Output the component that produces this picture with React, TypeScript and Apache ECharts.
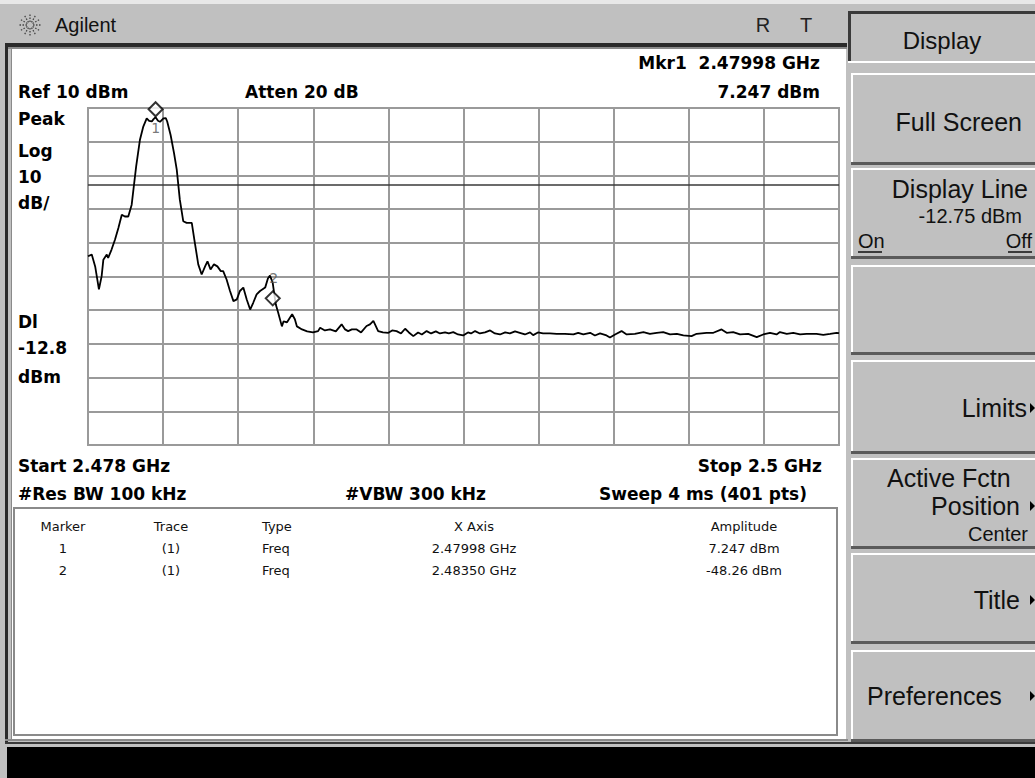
import React, { useEffect, useRef } from "react";
import * as echarts from "echarts";

// ---- instrument settings ----
const START_MHZ = 2478;
const STOP_MHZ = 2500;
const REF_LEVEL_DBM = 10;
const DB_PER_DIV = 10;
const DIVISIONS = 10;
const DISPLAY_LINE_DBM = -12.75;

// ---- trace ----
const traceFreqMHz = [
  2478.0, 2478.11, 2478.21, 2478.32, 2478.4, 2478.45, 2478.55, 2478.59, 2478.69, 2478.79,
  2478.89, 2478.99, 2479.08, 2479.18, 2479.28, 2479.33, 2479.41, 2479.52, 2479.62, 2479.72,
  2479.79, 2479.87, 2479.92, 2479.98, 2480.05, 2480.11, 2480.21, 2480.28, 2480.32, 2480.42,
  2480.52, 2480.6, 2480.69, 2480.79, 2480.89, 2481.04, 2481.13, 2481.23, 2481.33, 2481.43,
  2481.5, 2481.59, 2481.69, 2481.79, 2481.89, 2481.96, 2482.06, 2482.16, 2482.26, 2482.36,
  2482.45, 2482.55, 2482.65, 2482.75, 2482.84, 2482.94, 2483.04, 2483.19, 2483.27, 2483.33,
  2483.41, 2483.5, 2483.57, 2483.68, 2483.73, 2483.83, 2483.98, 2484.06, 2484.12, 2484.27,
  2484.42, 2484.59, 2484.74, 2484.8, 2484.94, 2485.09, 2485.26, 2485.43, 2485.53, 2485.62,
  2485.73, 2485.87, 2486.0, 2486.16, 2486.26, 2486.36, 2486.5, 2486.64, 2486.8, 2486.91,
  2487.04, 2487.17, 2487.29, 2487.4, 2487.53, 2487.67, 2487.78, 2487.92, 2488.05, 2488.19,
  2488.31, 2488.46, 2488.57, 2488.7, 2488.84, 2488.99, 2489.13, 2489.22, 2489.34, 2489.48,
  2489.63, 2489.78, 2489.92, 2490.07, 2490.22, 2490.36, 2490.51, 2490.65, 2490.8, 2490.95,
  2491.04, 2491.18, 2491.33, 2491.53, 2491.73, 2491.97, 2492.22, 2492.36, 2492.51, 2492.71,
  2492.85, 2493.0, 2493.19, 2493.29, 2493.44, 2493.63, 2493.78, 2494.02, 2494.27, 2494.46,
  2494.66, 2494.85, 2495.05, 2495.25, 2495.44, 2495.68, 2495.83, 2496.12, 2496.32, 2496.56,
  2496.71, 2496.9, 2497.1, 2497.34, 2497.59, 2497.78, 2497.98, 2498.17, 2498.27, 2498.47,
  2498.66, 2498.86, 2499.05, 2499.34, 2499.54, 2499.74, 2499.93, 2500.0,
];
const traceLevelDbm = [
  -34.0, -33.5, -37.0, -43.8, -39.9, -35.0, -33.5, -34.5, -32.0, -29.1,
  -25.6, -21.7, -22.2, -22.2, -18.7, -14.3, -7.4, 0.5, 4.5, 6.9,
  6.2, 6.0, 6.7, 7.247, 6.2, 5.9, 6.9, 7.0, 6.0, 2.0,
  -3.4, -8.3, -17.2, -23.6, -24.1, -24.1, -30.0, -36.4, -39.4, -37.0,
  -35.5, -37.9, -36.4, -37.0, -38.4, -38.4, -40.9, -44.3, -47.3, -46.8,
  -44.3, -43.3, -46.8, -49.8, -47.8, -45.3, -44.3, -43.3, -40.6, -39.7,
  -41.8, -48.26, -50.7, -54.8, -53.3, -53.6, -51.2, -52.7, -54.8, -55.7,
  -56.3, -56.6, -56.2, -55.2, -56.0, -55.7, -56.3, -54.2, -55.7, -56.2,
  -55.7, -55.7, -56.6, -54.7, -54.2, -53.2, -56.2, -56.6, -56.7, -56.0,
  -56.2, -56.9, -55.5, -56.6, -57.7, -56.6, -57.2, -56.2, -56.9, -56.3,
  -56.9, -56.6, -56.9, -56.5, -57.2, -57.5, -56.6, -56.9, -56.2, -56.9,
  -56.6, -56.0, -56.9, -57.2, -56.6, -56.9, -56.3, -56.7, -57.2, -56.6,
  -57.4, -56.6, -56.9, -56.9, -57.0, -57.0, -57.2, -56.7, -57.2, -56.7,
  -57.5, -56.9, -57.5, -58.1, -57.2, -56.2, -57.2, -57.0, -56.5, -57.0,
  -56.7, -56.5, -57.2, -57.0, -57.5, -57.7, -57.0, -56.7, -56.7, -55.7,
  -56.7, -56.5, -57.2, -57.0, -58.0, -57.2, -56.7, -57.2, -56.5, -57.0,
  -56.7, -57.2, -57.0, -57.0, -57.3, -57.0, -56.7, -56.8,
];

// ---- markers ----
const markerNames = ["1", "2"];
const markerFreqGHz = [2.47998, 2.4835];
const markerLevelDbm = [7.247, -48.26];
const markerFreqText = ["2.47998 GHz", "2.48350 GHz"];
const markerAmpText = ["7.247 dBm", "-48.26 dBm"];
const markerTrace = ["(1)", "(1)"];
const markerType = ["Freq", "Freq"];
const tableHeaders = ["Marker", "Trace", "Type", "X Axis", "Amplitude"];

// ---- softkeys ----
const softkeyTitle = "Display";

const GRID = { left: 88, top: 108, width: 751, height: 337 };

const BOLD = '"DejaVu Sans", sans-serif';
const KEYFONT = '"Liberation Sans", Arial, sans-serif';

function txt(text: string, x: number, y: number, o: any = {}) {
  return {
    type: "text",
    silent: true,
    z: o.z ?? 10,
    style: {
      text,
      x,
      y,
      fill: o.fill ?? "#000",
      fontSize: o.size ?? 17,
      fontWeight: o.weight ?? "normal",
      fontFamily: o.family ?? BOLD,
      align: o.align ?? "left",
      textAlign: o.align ?? "left",
      verticalAlign: "middle",
      textVerticalAlign: "middle",
    },
  };
}
function rect(x: number, y: number, w: number, h: number, fill: string, o: any = {}) {
  return {
    type: "rect",
    silent: true,
    z: o.z ?? 1,
    shape: { x, y, width: w, height: h },
    style: { fill, stroke: o.stroke ?? null, lineWidth: o.lw ?? 0 },
  };
}
function line(x1: number, y1: number, x2: number, y2: number, stroke: string, lw = 1, o: any = {}) {
  return {
    type: "line",
    silent: true,
    z: o.z ?? 2,
    shape: { x1, y1, x2, y2 },
    style: { stroke, lineWidth: lw, lineDash: o.dash ?? null },
  };
}
function arrow(x: number, y: number) {
  return {
    type: "polygon",
    silent: true,
    z: 10,
    shape: { points: [[x, y - 5], [x + 5, y], [x, y + 5]] },
    style: { fill: "#000" },
  };
}
function key(top: number, bottom: number) {
  return [
    rect(851, top, 184, bottom - top, "#c0c0c0", { z: 3 }),
    rect(851, top, 184, 2, "#ffffff", { z: 4 }),
    rect(851, top, 2, bottom - top, "#ffffff", { z: 4 }),
    rect(851, bottom - 3, 184, 3, "#5a5a5a", { z: 4 }),
  ];
}

export default function App() {
  const ref = useRef<HTMLDivElement>(null);
  useEffect(() => {
    if (!ref.current) return;
    const chart = echarts.init(ref.current, null, { renderer: "svg" });

    const traceData = traceFreqMHz.map((f, i) => [(f - START_MHZ) * 1000, traceLevelDbm[i]]);
    const markerData = markerFreqGHz.map((g, i) => ({
      value: [(g * 1000 - START_MHZ) * 1000, markerLevelDbm[i]],
      symbolOffset: i === 0 ? [0, -8] : [-3, -6],
    }));
    const markerLabelData = markerFreqGHz.map((g, i) => ({
      name: markerNames[i],
      value: [(g * 1000 - START_MHZ) * 1000, markerLevelDbm[i]],
      label: { offset: i === 0 ? [0, 11] : [-2, -26] },
    }));

    const spokes: any[] = [];
    for (let a = 0; a < 12; a++) {
      const ang = (a * Math.PI) / 6;
      spokes.push(
        line(30 + 3 * Math.cos(ang), 25 + 3 * Math.sin(ang), 30 + 11 * Math.cos(ang), 25 + 11 * Math.sin(ang), "#444", 1.3, { z: 5, dash: [1.5, 1.5] })
      );
    }

    const colX = [63, 171, 262, 474, 744];
    const colAlign = ["center", "center", "left", "center", "center"];
    const rowsY = [548, 570];
    const tableTexts: any[] = [];
    tableHeaders.forEach((h, i) => tableTexts.push(txt(h, colX[i], 526, { size: 13, align: colAlign[i], family: '"DejaVu Sans", sans-serif', fill: "#111" })));
    markerNames.forEach((m, r) => {
      const vals = [m, markerTrace[r], markerType[r], markerFreqText[r], markerAmpText[r]];
      vals.forEach((v, i) => tableTexts.push(txt(v, colX[i], rowsY[r], { size: 13, align: colAlign[i], family: '"DejaVu Sans", sans-serif', fill: "#111" })));
    });

    const b = { weight: "bold", size: 17 };

    const elements: any[] = [
      // background & title bar
      rect(0, 0, 1035, 778, "#c0c0c0", { z: 0 }),
      rect(0, 0, 1035, 4, "#e8e8e8", { z: 1 }),
      ...spokes,
      txt("Agilent", 55, 25, { size: 20, family: KEYFONT, fill: "#111" }),
      txt("R", 763, 25, { size: 20, family: KEYFONT, fill: "#222", align: "center" }),
      txt("T", 806, 25, { size: 20, family: KEYFONT, fill: "#222", align: "center" }),
      rect(5, 43, 842, 4, "#2a2a2a", { z: 2 }),
      rect(5, 47, 842, 2, "#8a8a8a", { z: 2 }),
      // measurement area
      rect(5, 43, 3, 700, "#2a2a2a", { z: 2 }),
      rect(11, 49, 835, 691, "#ffffff", { z: 1 }),
      rect(11, 49, 1, 691, "#8a8a8a", { z: 2 }),
      // annotations
      txt("Mkr1  2.47998 GHz", 820, 63, { ...b, align: "right" }),
      txt("Ref 10 dBm", 18, 92, b),
      txt("Atten 20 dB", 245, 92, b),
      txt("7.247 dBm", 820, 92, { ...b, align: "right" }),
      txt("Peak", 18, 119, b),
      txt("Log", 18, 151, b),
      txt("10", 18, 177, b),
      txt("dB/", 18, 203, b),
      txt("Dl", 18, 322, b),
      txt("-12.8", 18, 348, b),
      txt("dBm", 18, 377, b),
      txt("Start 2.478 GHz", 18, 466, b),
      txt("Stop 2.5 GHz", 822, 466, { ...b, align: "right" }),
      txt("#Res BW 100 kHz", 18, 494, b),
      txt("#VBW 300 kHz", 345, 494, b),
      txt("Sweep 4 ms (401 pts)", 807, 494, { ...b, align: "right" }),
      // marker table
      {
        type: "rect",
        silent: true,
        z: 2,
        shape: { x: 14, y: 508, width: 823, height: 227 },
        style: { fill: "#ffffff", stroke: "#8a8a8a", lineWidth: 2 },
      },
      ...tableTexts,
      // bottom
      rect(5, 739, 843, 2, "#8a8a8a", { z: 2 }),
      rect(5, 742, 1030, 2, "#3a3a3a", { z: 2 }),
      rect(7, 747, 1028, 31, "#000000", { z: 3 }),
      // softkey panel
      rect(848, 11, 187, 52, "#c0c0c0", { z: 3 }),
      rect(848, 11, 187, 3, "#3a3a3a", { z: 4 }),
      rect(848, 11, 3, 52, "#3a3a3a", { z: 4 }),
      rect(848, 61, 187, 2, "#ffffff", { z: 4 }),
      txt(softkeyTitle, 942, 40, { size: 24, family: KEYFONT, fill: "#111", align: "center" }),
      ...key(73, 165),
      txt("Full Screen", 1022, 122, { size: 25, family: KEYFONT, fill: "#111", align: "right" }),
      ...key(168, 259),
      txt("Display Line", 1028, 189, { size: 25, family: KEYFONT, fill: "#111", align: "right" }),
      txt("-12.75 dBm", 1022, 216, { size: 20, family: KEYFONT, fill: "#111", align: "right" }),
      txt("On", 858, 241, { size: 20, family: KEYFONT, fill: "#111" }),
      line(858, 252, 882, 252, "#111", 1.5, { z: 10 }),
      txt("Off", 1032, 241, { size: 20, family: KEYFONT, fill: "#111", align: "right" }),
      line(1008, 252, 1032, 252, "#111", 1.5, { z: 10 }),
      ...key(265, 355),
      ...key(360, 454),
      txt("Limits", 1027, 408, { size: 25, family: KEYFONT, fill: "#111", align: "right" }),
      arrow(1030, 408),
      ...key(458, 549),
      txt("Active Fctn", 887, 478, { size: 25, family: KEYFONT, fill: "#111" }),
      txt("Position", 1020, 506, { size: 25, family: KEYFONT, fill: "#111", align: "right" }),
      arrow(1030, 506),
      txt("Center", 1028, 534, { size: 20, family: KEYFONT, fill: "#111", align: "right" }),
      ...key(553, 644),
      txt("Title", 1020, 600, { size: 25, family: KEYFONT, fill: "#111", align: "right" }),
      arrow(1030, 600),
      ...key(650, 742),
      txt("Preferences", 867, 696, { size: 25, family: KEYFONT, fill: "#111" }),
      arrow(1030, 696),
    ];

    const span = (STOP_MHZ - START_MHZ) * 1000;
    chart.setOption({
      animation: false,
      graphic: { elements },
      grid: {
        ...GRID,
        show: true,
        borderColor: "#9a9a9a",
        borderWidth: 2,
        backgroundColor: "transparent",
        z: 5,
      },
      xAxis: {
        type: "value",
        min: 0,
        max: span,
        interval: span / DIVISIONS,
        axisLine: { show: false },
        axisTick: { show: false },
        axisLabel: { show: false },
        splitLine: { show: true, lineStyle: { color: "#9a9a9a", width: 2 } },
        z: 5,
      },
      yAxis: {
        type: "value",
        min: REF_LEVEL_DBM - DB_PER_DIV * DIVISIONS,
        max: REF_LEVEL_DBM,
        interval: DB_PER_DIV,
        axisLine: { show: false },
        axisTick: { show: false },
        axisLabel: { show: false },
        splitLine: { show: true, lineStyle: { color: "#9a9a9a", width: 2 } },
        z: 5,
      },
      series: [
        {
          type: "line",
          data: traceData,
          showSymbol: false,
          symbol: "none",
          lineStyle: { color: "#000", width: 1.8 },
          z: 10,
          silent: true,
          markLine: {
            silent: true,
            symbol: "none",
            label: { show: false },
            lineStyle: { color: "#3a3a3a", width: 1.5, type: "solid" },
            data: [{ yAxis: DISPLAY_LINE_DBM }],
          },
        },
        {
          type: "scatter",
          data: markerData,
          symbol: "diamond",
          symbolSize: 14,
          itemStyle: { color: "#ffffff", borderColor: "#000", borderWidth: 2 },
          z: 12,
          silent: true,
        },
        {
          type: "scatter",
          data: markerLabelData,
          symbolSize: 1,
          itemStyle: { color: "transparent" },
          label: {
            show: true,
            position: "inside",
            formatter: (p: any) => p.name,
            color: "#555",
            fontSize: 14,
            fontFamily: '"DejaVu Sans", sans-serif',
          },
          z: 12,
          silent: true,
        },
      ],
    });
    return () => chart.dispose();
  }, []);
  return (
    <div
      ref={ref}
      style={{ position: "fixed", left: 0, top: 0, width: 1035, height: 778, background: "#c0c0c0" }}
    />
  );
}
